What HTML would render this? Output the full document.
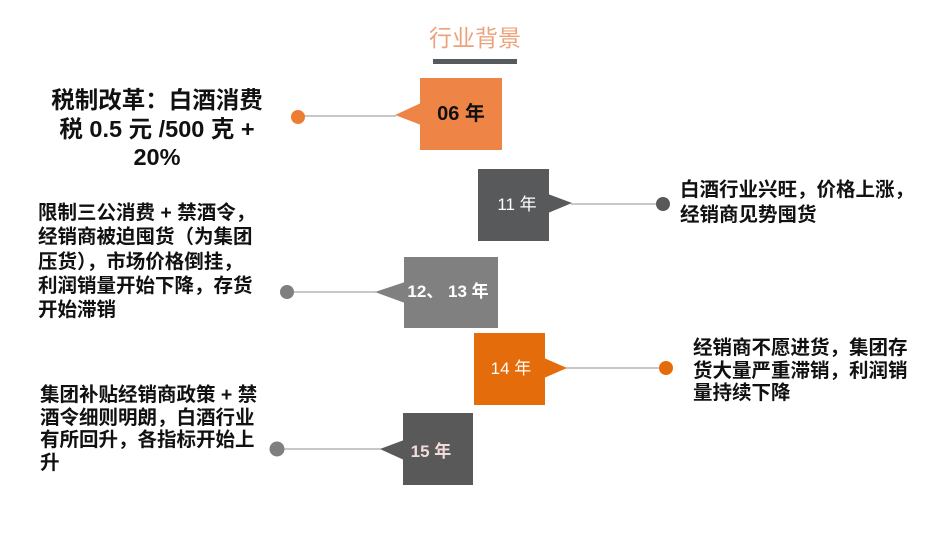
<!DOCTYPE html>
<html>
<head>
<meta charset="utf-8">
<style>
  html,body{margin:0;padding:0;background:#fff;}
  body{width:950px;height:535px;position:relative;overflow:hidden;
    font-family:"Liberation Sans","Noto Sans CJK SC",sans-serif;}
  svg{position:absolute;left:0;top:0;}
  .t{position:absolute;white-space:nowrap;font-weight:bold;color:#111;
    font-family:"Liberation Sans","Noto Sans CJK SC",sans-serif;}
  .lbl{position:absolute;white-space:nowrap;text-align:center;
    font-family:"Liberation Sans","Noto Sans CJK SC",sans-serif;}
</style>
</head>
<body>
<svg width="950" height="535" viewBox="0 0 950 535">
  <rect x="433" y="59" width="84" height="5" fill="#555a5e"/>

  <line x1="298" y1="116" x2="396" y2="116" stroke="#a6a6a6" stroke-width="1.2"/>
  <circle cx="298" cy="117" r="7" fill="#ED7D31"/>
  <rect x="420" y="78" width="82" height="72" fill="#EE8445"/>
  <polygon points="395,115 421,103 421,125" fill="#EE8445"/>

  <line x1="571" y1="204" x2="663" y2="204" stroke="#a6a6a6" stroke-width="1.2"/>
  <circle cx="663" cy="204" r="7" fill="#595959"/>
  <rect x="478" y="169" width="71" height="72" fill="#58595B"/>
  <polygon points="572,203 548,194 548,213" fill="#58595B"/>

  <line x1="287" y1="292" x2="376" y2="292" stroke="#a6a6a6" stroke-width="1.2"/>
  <circle cx="287" cy="292" r="7" fill="#7f7f7f"/>
  <rect x="404" y="257" width="94" height="71" fill="#808080"/>
  <polygon points="375,292 405,282 405,303" fill="#808080"/>

  <line x1="566" y1="368" x2="666" y2="368" stroke="#a6a6a6" stroke-width="1.2"/>
  <circle cx="666" cy="368" r="7" fill="#E36C09"/>
  <rect x="474" y="333" width="71" height="72" fill="#E46C0A"/>
  <polygon points="567,368 544,358 544,378" fill="#E46C0A"/>

  <line x1="277" y1="449" x2="381" y2="449" stroke="#a6a6a6" stroke-width="1.2"/>
  <circle cx="277" cy="449" r="7.5" fill="#7f7f7f"/>
  <rect x="403" y="413" width="70" height="72" fill="#595959"/>
  <polygon points="380,449 404,440 404,460" fill="#595959"/>
</svg>

<div class="lbl" style="left:420px;top:23px;width:110px;font-size:23px;line-height:30px;color:#EDA27C;">行业背景</div>

<div class="lbl" style="left:420px;top:100px;width:82px;font-size:20px;line-height:28px;font-weight:bold;color:#111;">06 年</div>
<div class="lbl" style="left:478px;top:192px;width:78px;font-size:17px;line-height:26px;color:#fff;">11 年</div>
<div class="lbl" style="left:400px;top:279px;width:96px;font-size:17px;line-height:26px;font-weight:bold;color:#fff;">12、 13 年</div>
<div class="lbl" style="left:474px;top:356px;width:74px;font-size:17px;line-height:26px;color:#fff;">14 年</div>
<div class="lbl" style="left:403px;top:439px;width:56px;font-size:17px;line-height:26px;font-weight:bold;color:#F2DCDB;">15 年</div>

<div class="t" style="left:27px;top:86px;width:260px;text-align:center;font-size:23.5px;line-height:28.5px;">税制改革：白酒消费<br>税 0.5 元 /500 克 +<br>20%</div>

<div class="t" style="left:680px;top:178px;font-size:19.5px;line-height:25px;">白酒行业兴旺，价格上涨，<br>经销商见势囤货</div>

<div class="t" style="left:38px;top:201px;font-size:19.5px;line-height:24.3px;">限制三公消费 + 禁酒令，<br>经销商被迫囤货（为集团<br>压货），市场价格倒挂，<br>利润销量开始下降，存货<br>开始滞销</div>

<div class="t" style="left:693px;top:337px;font-size:19.5px;line-height:22.5px;">经销商不愿进货，集团存<br>货大量严重滞销，利润销<br>量持续下降</div>

<div class="t" style="left:40px;top:384px;font-size:19.5px;line-height:22.7px;">集团补贴经销商政策 + 禁<br>酒令细则明朗，白酒行业<br>有所回升，各指标开始上<br>升</div>

</body>
</html>
